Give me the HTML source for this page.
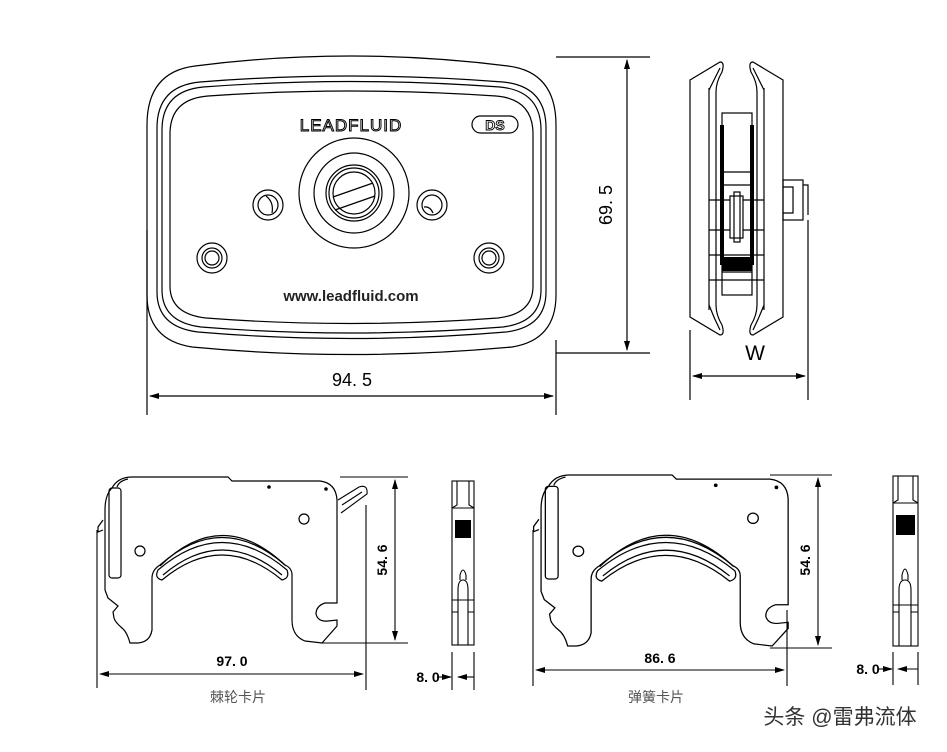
<!DOCTYPE html>
<html><head><meta charset="utf-8"><style>
html,body{margin:0;padding:0;background:#fff}
svg{display:block}
text{font-family:"Liberation Sans","Noto Sans CJK SC",sans-serif}
</style></head><body>
<svg width="947" height="752" viewBox="0 0 947 752" xmlns="http://www.w3.org/2000/svg">
<defs>
<marker id="ar" markerWidth="10" markerHeight="8" refX="9" refY="4" orient="auto-start-reverse" markerUnits="userSpaceOnUse"><path d="M0,1 L10,4 L0,7 Z" fill="#000"/></marker>
<g id="clip" fill="none" stroke="#000" stroke-width="1.2">
<path d="M112,488 Q118,477 132,477 L228,477 L232,481 L320,481 Q336,483 337,500 L337,603 L325,603 Q316,606 316,614 Q318,622 328,621 L337,620 L337,626 L322,643 L305,641 Q292,636 292,620 L292,575 Q292,568 285,565 Q222,510 160,565 Q152,570 152,578 L152,630 Q150,642 138,643 L130,643 Q127,632 122,628 Q115,622 114,618 L113,612 L118,606 L108,598 L105,590 L105,510 Q105,495 112,488 Z"/>
<path d="M117,487 Q119,481 128,479"/>
<rect x="109" y="488" width="12" height="90" rx="3"/>
<path d="M158,570 Q222,515 287,570 Q290,578 282,580 Q222,530 162,580 Q154,578 158,570 Z"/>
<path d="M163,575 Q222,525 282,575"/>
<path d="M160,566 Q222,505 286,566"/>
<circle cx="140" cy="551" r="5"/>
<circle cx="304" cy="519" r="5"/>
<circle cx="269" cy="487" r="1.2" fill="#000"/>
<circle cx="326" cy="489" r="1.2" fill="#000"/>
<path d="M103,520 L98,527 L98,532 L103,530"/>
</g>
</defs>

<g fill="none" stroke="#000" stroke-width="1.2">
<!-- front view -->
<path d="M147,125 Q147,72 195,66 Q350,46 508,66 Q556,72 556,125 L556,295 Q556,340 512,347 Q350,362 192,347 Q147,340 147,295 Z"/>
<path d="M157,128 Q157,86 200,82 Q350,70 503,82 Q546,86 546,128 L546,292 Q546,327 506,332 Q350,345 198,332 Q157,327 157,292 Z"/>
<path d="M162,130 Q162,91 203,87 Q350,76 500,87 Q541,91 541,130 L541,290 Q541,322 503,327 Q350,339 201,327 Q162,322 162,290 Z"/>
<path d="M170,134 Q170,99 208,96 Q350,86 496,96 Q533,99 533,134 L533,286 Q533,314 498,318 Q350,329 206,318 Q170,314 170,286 Z"/>
<circle cx="354" cy="193" r="55"/>
<circle cx="354" cy="193" r="40"/>
<circle cx="354" cy="193" r="28"/>
<circle cx="354" cy="193" r="25"/>
<circle cx="354" cy="193" r="21"/>
<path d="M333,197 L373,183 M335,210 L375,196"/>
<circle cx="268" cy="205" r="15"/><circle cx="268" cy="205" r="10"/><path d="M266,196 Q274,202 272,213"/>
<circle cx="432" cy="205" r="15"/><circle cx="432" cy="205" r="10"/><path d="M424,207 Q430,206 433,213"/>
<circle cx="212" cy="258" r="15"/><circle cx="212" cy="258" r="10"/><circle cx="212" cy="258" r="7"/>
<circle cx="489" cy="258" r="15"/><circle cx="489" cy="258" r="10"/><circle cx="489" cy="258" r="7"/>
<rect x="472" y="116" width="46" height="17" rx="8.5"/>
<!-- dims front -->
<path d="M556,57 L650,57 M556,353 L650,353"/>
<path d="M627,60 L627,350" marker-start="url(#ar)" marker-end="url(#ar)"/>
<path d="M147,230 L147,415 M556,340 L556,415"/>
<path d="M150,396 L553,396" marker-start="url(#ar)" marker-end="url(#ar)"/>

<!-- side view -->
<path d="M690,80 L720,62 Q725,62 722,72 Q716,82 716,92 L716,305 Q716,315 722,325 Q725,335 720,335 L690,317 Z"/>
<path d="M709,90 Q714,80 720,68 M709,305 Q714,318 720,330"/>
<path d="M709,88 L709,310"/>
<path d="M783,80 L753,62 Q748,62 751,72 Q757,82 757,92 L757,305 Q757,315 751,325 Q748,335 753,335 L783,317 Z"/>
<path d="M764,88 L764,310 M753,68 Q759,80 764,90 M753,330 Q759,318 764,305"/>
<rect x="722" y="113" width="30" height="182"/>
<path d="M709,200 L764,200 M709,230 L764,230 M709,255 L764,255 M709,280 L764,280 M722,172 L752,172 M722,185 L752,185 M722,272 L752,272"/>
<rect x="730" y="196" width="13" height="42" fill="#fff"/>
<rect x="734" y="192" width="6" height="50"/>
<rect x="783" y="180" width="20" height="40"/>
<path d="M783,187 L793,187 L793,213 L783,213 M803,185 L808,185 L808,215"/>
<path d="M690,330 L690,400 M808,220 L808,400"/>
<path d="M693,376 L805,376" marker-start="url(#ar)" marker-end="url(#ar)"/>
</g>
<g fill="#000">
<rect x="720" y="125" width="4" height="140"/><rect x="750" y="125" width="4" height="140"/>
<rect x="722" y="257" width="30" height="14"/>
</g>

<use href="#clip"/>
<path d="M338,500 L359,487 Q368,484 367,494 L341,513 M342,505 L362,492" fill="none" stroke="#000" stroke-width="1.1"/>
<use href="#clip" transform="translate(540,475) scale(1.065,1.03) translate(-104,-477)"/>

<g fill="none" stroke="#000" stroke-width="1.1">
<!-- left clip dims -->
<path d="M340,477 L408,477 M320,643 L408,643"/>
<path d="M395,480 L395,640" marker-start="url(#ar)" marker-end="url(#ar)"/>
<path d="M97,530 L97,688 M366,505 L366,690"/>
<path d="M100,674 L363,674" marker-start="url(#ar)" marker-end="url(#ar)"/>
<!-- small side 1 -->
<rect x="452" y="481" width="22" height="164"/>
<path d="M457,481 L457,505 L452,508 M469,481 L469,505 L474,508 M452,508 L474,508"/>
<path d="M458,645 L458,590 Q458,580 463,580 Q468,580 468,590 L468,645 M460,580 L460,575 Q463,565 466,575 L466,580 M452,612 L458,612 M468,612 L474,612 M452,600 L474,600"/>
<path d="M452,652 L452,690 M474,652 L474,690"/>
<path d="M437,677 L451,677" marker-end="url(#ar)"/>
<path d="M474,677 L458,677" marker-end="url(#ar)"/>
<!-- right clip dims -->
<path d="M770,475 L832,475 M770,648 L832,648"/>
<path d="M818,478 L818,645" marker-start="url(#ar)" marker-end="url(#ar)"/>
<path d="M533,530 L533,686 M787,610 L787,686"/>
<path d="M536,670 L784,670" marker-start="url(#ar)" marker-end="url(#ar)"/>
<!-- small side 2 -->
<rect x="893" y="476" width="25" height="170"/>
<path d="M898,476 L898,500 L893,503 M913,476 L913,500 L918,503 M893,503 L918,503"/>
<path d="M899,646 L899,590 Q899,580 905,580 Q911,580 911,590 L911,646 M902,580 L902,575 Q905,563 908,575 L908,580 M893,612 L899,612 M911,612 L918,612 M893,605 L918,605"/>
<path d="M893,652 L893,685 M918,652 L918,685"/>
<path d="M878,669 L892,669" marker-end="url(#ar)"/>
<path d="M918,669 L898,669" marker-end="url(#ar)"/>
</g>
<rect x="455" y="520" width="16" height="18" fill="#000"/>
<rect x="896" y="515" width="19" height="20" fill="#000"/>

<!-- text -->
<text x="351" y="131" font-size="17" text-anchor="middle" fill="#fff" stroke="#000" stroke-width="1" letter-spacing="1">LEADFLUID</text>
<text x="495" y="130" font-size="14" font-weight="bold" text-anchor="middle" fill="#fff" stroke="#000" stroke-width="0.9">DS</text>
<text x="351" y="301" font-size="15" font-weight="bold" text-anchor="middle" fill="#222">www.leadfluid.com</text>
<text transform="translate(612,205) rotate(-90)" font-size="18" text-anchor="middle" fill="#000">69. 5</text>
<text x="352" y="386" font-size="18" text-anchor="middle" fill="#000">94. 5</text>
<text x="755" y="360" font-size="21" text-anchor="middle" fill="#000">W</text>
<text transform="translate(387,560) rotate(-90)" font-size="14" font-weight="bold" text-anchor="middle">54. 6</text>
<text x="232" y="666" font-size="14" font-weight="bold" text-anchor="middle">97. 0</text>
<text x="428" y="682" font-size="14" font-weight="bold" text-anchor="middle">8. 0</text>
<text x="238" y="702" font-size="14" text-anchor="middle" fill="#555">棘轮卡片</text>
<text transform="translate(810,560) rotate(-90)" font-size="14" font-weight="bold" text-anchor="middle">54. 6</text>
<text x="660" y="663" font-size="14" font-weight="bold" text-anchor="middle">86. 6</text>
<text x="868" y="674" font-size="14" font-weight="bold" text-anchor="middle">8. 0</text>
<text x="656" y="702" font-size="14" text-anchor="middle" fill="#555">弹簧卡片</text>
<text x="840" y="724" font-size="21" text-anchor="middle" fill="#333">头条 @雷弗流体</text>
</svg>
</body></html>
